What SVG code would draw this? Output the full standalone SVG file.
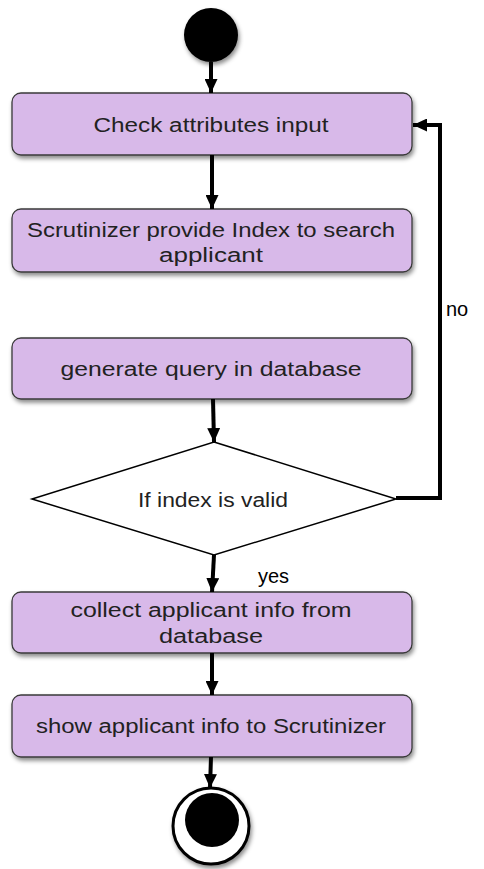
<svg xmlns="http://www.w3.org/2000/svg" width="484" height="869" viewBox="0 0 484 869">
<style>
.box{fill:#D8B9E9;stroke:#3a3a3a;stroke-width:1.3}
.t{font-family:"Century Gothic","Liberation Sans",Arial,sans-serif;font-size:20px;fill:#222;text-anchor:middle}
.lbl{font-family:"Liberation Sans",Arial,sans-serif;font-size:20px;fill:#000}
.c{fill:none;stroke:#000;stroke-width:4}
</style>
<defs>
<filter id="sh" x="-10%" y="-20%" width="120%" height="150%">
<feDropShadow dx="1.5" dy="3" stdDeviation="2" flood-color="#000" flood-opacity="0.45"/>
</filter>
<marker id="ah" viewBox="0 0 14 13" refX="14" refY="6.5" markerWidth="14" markerHeight="13" markerUnits="userSpaceOnUse" orient="auto">
<path d="M0,0 L14,6.5 L0,13 Z" fill="#000"/>
</marker>
</defs>
<g id="start"><circle cx="211" cy="35" r="27" fill="#000" filter="url(#sh)"/></g>
<g id="n1"><rect class="box" x="12" y="93" width="400" height="62" rx="9" filter="url(#sh)"/><text class="t" x="211" y="132" textLength="235" lengthAdjust="spacingAndGlyphs">Check attributes input</text></g>
<g id="n2"><rect class="box" x="12" y="209" width="400" height="63" rx="9" filter="url(#sh)"/><text class="t" x="211" y="237" textLength="368" lengthAdjust="spacingAndGlyphs">Scrutinizer  provide Index to search</text><text class="t" x="211" y="262" textLength="104" lengthAdjust="spacingAndGlyphs">applicant</text></g>
<g id="n3"><rect class="box" x="12" y="338" width="400" height="61" rx="9" filter="url(#sh)"/><text class="t" x="211" y="376" textLength="301" lengthAdjust="spacingAndGlyphs">generate query in database</text></g>
<g id="d1"><polygon points="214,442 396,499 214,555 32,499" fill="#fff" stroke="#000" stroke-width="1.5"/><text class="t" x="213" y="507" textLength="150" lengthAdjust="spacingAndGlyphs">If index is valid</text></g>
<g id="n4"><rect class="box" x="12" y="592" width="400" height="61" rx="9" filter="url(#sh)"/><text class="t" x="211" y="617" textLength="281" lengthAdjust="spacingAndGlyphs">collect applicant info from</text><text class="t" x="211" y="643" textLength="104" lengthAdjust="spacingAndGlyphs">database</text></g>
<g id="n5"><rect class="box" x="12" y="695" width="400" height="62" rx="9" filter="url(#sh)"/><text class="t" x="211" y="733" textLength="350" lengthAdjust="spacingAndGlyphs">show applicant info to Scrutinizer</text></g>
<g id="end"><circle cx="211" cy="826" r="38" fill="#fff" stroke="#000" stroke-width="3" filter="url(#sh)"/><circle cx="212" cy="820" r="27" fill="#000"/></g>
<g id="connectors">
<line class="c" x1="211" y1="62" x2="211" y2="93" marker-end="url(#ah)"/>
<line class="c" x1="212" y1="155" x2="212" y2="209" marker-end="url(#ah)"/>
<line class="c" x1="213" y1="399" x2="214" y2="442" marker-end="url(#ah)"/>
<polyline class="c" points="396,498 440,498 440,125 413,125" marker-end="url(#ah)" stroke-linejoin="miter"/>
<line class="c" x1="214" y1="555" x2="212" y2="592" marker-end="url(#ah)"/>
<line class="c" x1="212" y1="653" x2="212" y2="695" marker-end="url(#ah)"/>
<line class="c" x1="211" y1="757" x2="210" y2="788" marker-end="url(#ah)"/>
<text class="lbl" x="446" y="316">no</text>
<text class="lbl" x="258" y="583">yes</text>
</g>
</svg>
